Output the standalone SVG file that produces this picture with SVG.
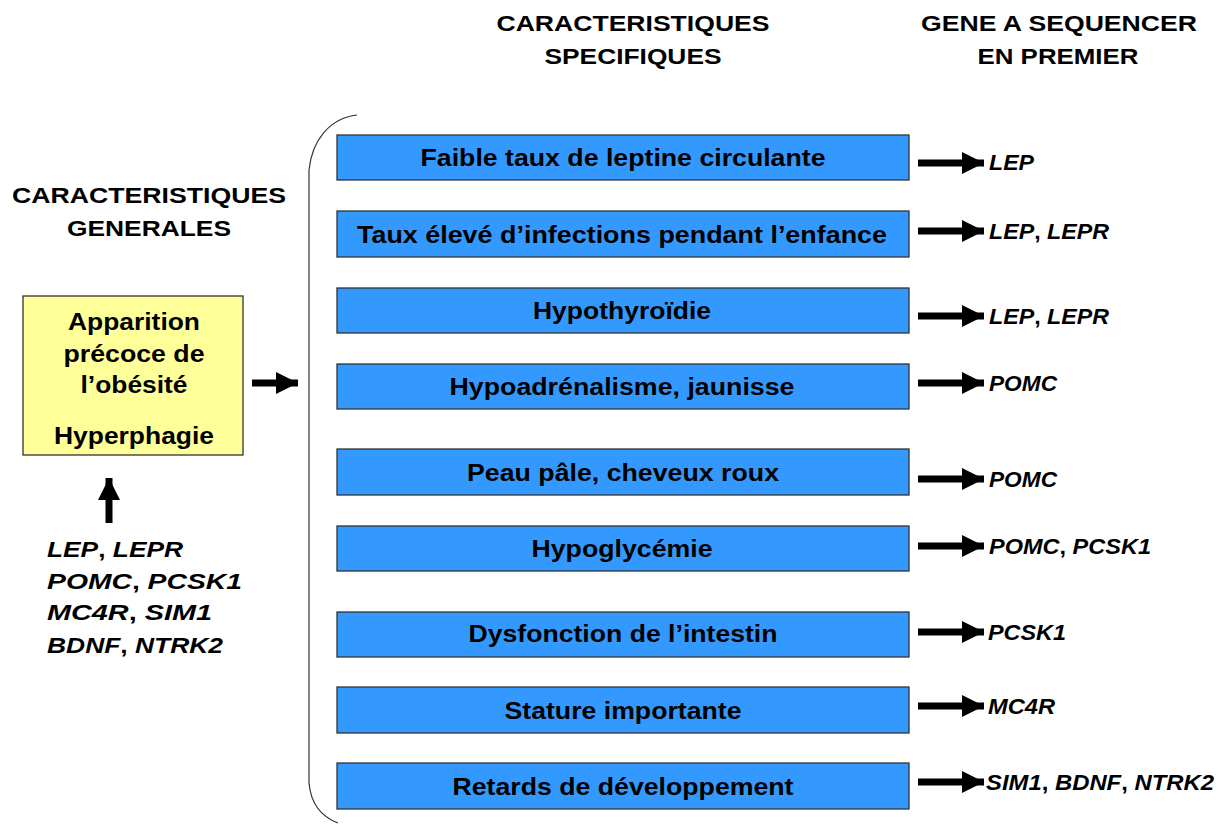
<svg xmlns="http://www.w3.org/2000/svg" width="1222" height="825" viewBox="0 0 1222 825">
<defs>
<style>
text{font-family:"Liberation Sans",Arial,sans-serif;font-weight:bold;fill:#000}
.h{font-size:22px;text-anchor:middle}
.b{font-size:23px;text-anchor:middle}
.g{font-size:22px}
.i{font-style:italic}
.box{fill:#3399FF;stroke:#333;stroke-width:1.3}
.ybox{fill:#FFFF99;stroke:#333;stroke-width:1.3}
.shaft{stroke:#000;stroke-width:7;fill:none}
</style>
<marker id="ah" viewBox="0 0 10 10" refX="10" refY="5" markerWidth="22" markerHeight="22" markerUnits="userSpaceOnUse" orient="auto"><path d="M0,0L10,5L0,10z" fill="#000"/></marker>
</defs>
<rect width="1222" height="825" fill="#fff"/>
<g id="headers">
<text class="h" x="149" y="203" textLength="274" lengthAdjust="spacingAndGlyphs">CARACTERISTIQUES</text>
<text class="h" x="149" y="236" textLength="164" lengthAdjust="spacingAndGlyphs">GENERALES</text>
<text class="h" x="633" y="31" textLength="273" lengthAdjust="spacingAndGlyphs">CARACTERISTIQUES</text>
<text class="h" x="633" y="64" textLength="177" lengthAdjust="spacingAndGlyphs">SPECIFIQUES</text>
<text class="h" x="1059" y="31" textLength="276" lengthAdjust="spacingAndGlyphs">GENE A SEQUENCER</text>
<text class="h" x="1058" y="64" textLength="161" lengthAdjust="spacingAndGlyphs">EN PREMIER</text>
</g>
<g id="general">
<rect class="ybox" x="23" y="296" width="220" height="159"/>
<text class="b" x="134" y="330" textLength="132" lengthAdjust="spacingAndGlyphs">Apparition</text>
<text class="b" x="134" y="362" textLength="141" lengthAdjust="spacingAndGlyphs">précoce de</text>
<text class="b" x="134" y="393" textLength="107" lengthAdjust="spacingAndGlyphs">l’obésité</text>
<text class="b" x="134" y="444" textLength="160" lengthAdjust="spacingAndGlyphs">Hyperphagie</text>
</g>
<g id="genelist" class="g">
<text x="47" y="557" textLength="136" lengthAdjust="spacingAndGlyphs"><tspan class="i">LEP</tspan>, <tspan class="i">LEPR</tspan></text>
<text x="47" y="589" textLength="195" lengthAdjust="spacingAndGlyphs"><tspan class="i">POMC</tspan>, <tspan class="i">PCSK1</tspan></text>
<text x="47" y="620" textLength="165" lengthAdjust="spacingAndGlyphs"><tspan class="i">MC4R</tspan>, <tspan class="i">SIM1</tspan></text>
<text x="47" y="653" textLength="176" lengthAdjust="spacingAndGlyphs"><tspan class="i">BDNF</tspan>, <tspan class="i">NTRK2</tspan></text>
</g>
<g id="bracket">
<path d="M357,115 C330,118 312,140 309,170 L309,783 C311,805 322,817 338,823" fill="none" stroke="#333" stroke-width="1.2"/>
</g>
<g id="n1"><rect class="box" x="337" y="135" width="572" height="45"/><text class="b" x="623" y="166" textLength="405" lengthAdjust="spacingAndGlyphs">Faible taux de leptine circulante</text></g>
<g id="n2"><rect class="box" x="337" y="211" width="572" height="46"/><text class="b" x="622" y="243" textLength="530" lengthAdjust="spacingAndGlyphs">Taux élevé d’infections pendant l’enfance</text></g>
<g id="n3"><rect class="box" x="337" y="288" width="572" height="45"/><text class="b" x="622" y="319" textLength="178" lengthAdjust="spacingAndGlyphs">Hypothyroïdie</text></g>
<g id="n4"><rect class="box" x="337" y="364" width="572" height="45"/><text class="b" x="622" y="395" textLength="345" lengthAdjust="spacingAndGlyphs">Hypoadrénalisme, jaunisse</text></g>
<g id="n5"><rect class="box" x="337" y="449" width="572" height="46"/><text class="b" x="623" y="481" textLength="312" lengthAdjust="spacingAndGlyphs">Peau pâle, cheveux roux</text></g>
<g id="n6"><rect class="box" x="337" y="526" width="572" height="45"/><text class="b" x="622" y="557" textLength="181" lengthAdjust="spacingAndGlyphs">Hypoglycémie</text></g>
<g id="n7"><rect class="box" x="337" y="612" width="572" height="45"/><text class="b" x="623" y="642" textLength="309" lengthAdjust="spacingAndGlyphs">Dysfonction de l’intestin</text></g>
<g id="n8"><rect class="box" x="337" y="687" width="572" height="46"/><text class="b" x="623" y="719" textLength="237" lengthAdjust="spacingAndGlyphs">Stature importante</text></g>
<g id="n9"><rect class="box" x="337" y="763" width="572" height="46"/><text class="b" x="623" y="795" textLength="341" lengthAdjust="spacingAndGlyphs">Retards de développement</text></g>
<g id="genes" class="g">
<text x="989" y="170" textLength="45" lengthAdjust="spacingAndGlyphs"><tspan class="i">LEP</tspan></text>
<text x="989" y="239" textLength="120" lengthAdjust="spacingAndGlyphs"><tspan class="i">LEP</tspan>, <tspan class="i">LEPR</tspan></text>
<text x="989" y="324" textLength="120" lengthAdjust="spacingAndGlyphs"><tspan class="i">LEP</tspan>, <tspan class="i">LEPR</tspan></text>
<text x="989" y="391" textLength="68" lengthAdjust="spacingAndGlyphs"><tspan class="i">POMC</tspan></text>
<text x="989" y="487" textLength="68" lengthAdjust="spacingAndGlyphs"><tspan class="i">POMC</tspan></text>
<text x="989" y="554" textLength="162" lengthAdjust="spacingAndGlyphs"><tspan class="i">POMC</tspan>, <tspan class="i">PCSK1</tspan></text>
<text x="988" y="640" textLength="78" lengthAdjust="spacingAndGlyphs"><tspan class="i">PCSK1</tspan></text>
<text x="988" y="714" textLength="67" lengthAdjust="spacingAndGlyphs"><tspan class="i">MC4R</tspan></text>
<text x="986" y="790" textLength="228" lengthAdjust="spacingAndGlyphs"><tspan class="i">SIM1</tspan>, <tspan class="i">BDNF</tspan>, <tspan class="i">NTRK2</tspan></text>
</g>
<g id="connectors">
<line class="shaft" x1="252" y1="383" x2="298" y2="383" marker-end="url(#ah)"/>
<line class="shaft" x1="109" y1="523" x2="109" y2="478" marker-end="url(#ah)"/>
<line class="shaft" x1="918" y1="163" x2="984" y2="163" marker-end="url(#ah)"/>
<line class="shaft" x1="918" y1="231" x2="984" y2="231" marker-end="url(#ah)"/>
<line class="shaft" x1="918" y1="316" x2="984" y2="316" marker-end="url(#ah)"/>
<line class="shaft" x1="918" y1="383" x2="984" y2="383" marker-end="url(#ah)"/>
<line class="shaft" x1="918" y1="479" x2="984" y2="479" marker-end="url(#ah)"/>
<line class="shaft" x1="918" y1="546" x2="984" y2="546" marker-end="url(#ah)"/>
<line class="shaft" x1="918" y1="632" x2="984" y2="632" marker-end="url(#ah)"/>
<line class="shaft" x1="918" y1="706" x2="984" y2="706" marker-end="url(#ah)"/>
<line class="shaft" x1="918" y1="782" x2="984" y2="782" marker-end="url(#ah)"/>
</g>
</svg>
